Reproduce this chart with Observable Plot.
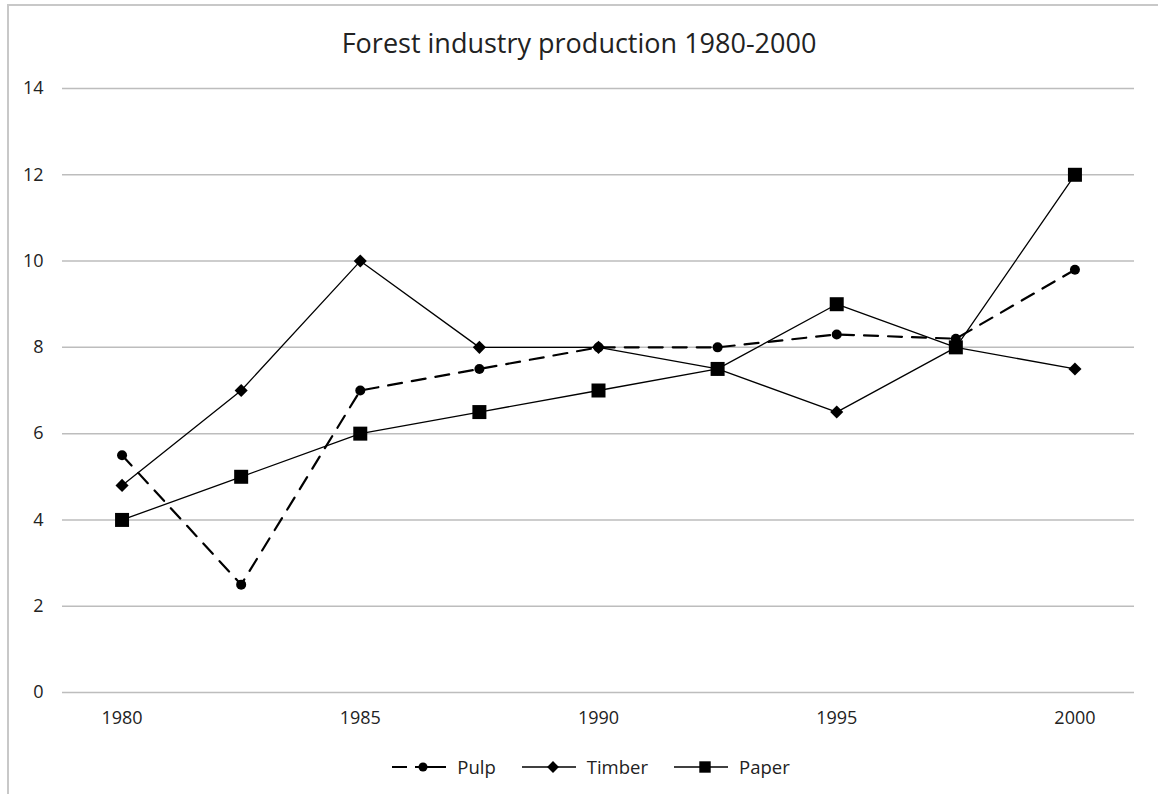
<!DOCTYPE html>
<html><head><meta charset="utf-8">
<script src="https://cdn.jsdelivr.net/npm/d3@7"></script>
<script src="https://cdn.jsdelivr.net/npm/@observablehq/plot@0.6"></script>
<style>
body{margin:0;background:#fff;font-family:"Open Sans",sans-serif;width:1158px;height:794px;overflow:hidden;position:relative;}
#frame{position:absolute;left:7px;top:4px;width:1170px;height:820px;border-left:2px solid #c8c8c8;border-top:2px solid #c8c8c8;}
#title{position:absolute;left:0;top:23px;width:1158px;text-align:center;font-size:27px;color:#222;line-height:40px;}
#chart{position:absolute;left:0;top:70px;}
#legend{position:absolute;top:754px;left:12px;width:1158px;display:flex;justify-content:center;align-items:center;font-size:18.5px;color:#222;}
.item{display:flex;align-items:center;margin:0 13px;}
.item svg{margin-right:11px;}
</style></head>
<body>
<div id="frame"></div>
<div id="title">Forest industry production 1980-2000</div>
<div id="chart"></div>
<div id="legend"></div>
<script>
const years = [1980, 1982.5, 1985, 1987.5, 1990, 1992.5, 1995, 1997.5, 2000];
const pulp = [5.5, 2.5, 7, 7.5, 8, 8, 8.3, 8.2, 9.8];
const timber = [4.8, 7, 10, 8, 8, 7.5, 6.5, 8, 7.5];
const paper = [4, 5, 6, 6.5, 7, 7.5, 9, 8, 12];
const xTicks = [1980, 1985, 1990, 1995, 2000];
const yTicks = [0, 2, 4, 6, 8, 10, 12, 14];
const seriesNames = ["Pulp", "Timber", "Paper"];

const seriesValues = {Pulp: pulp, Timber: timber, Paper: paper};
const seriesStyle = {
  Pulp: {symbol: "circle", r: 5, dash: "14,10", width: 2.2},
  Timber: {symbol: "diamond2", r: 5.9, dash: null, width: 1.3},
  Paper: {symbol: "square", r: 7.9, dash: null, width: 1.3}
};
const rows = seriesNames.map(s => years.map((y, i) => ({series: s, year: y, value: seriesValues[s][i]})));

const marks = [
  Plot.gridY(yTicks, {stroke: "#bdbdbd", strokeOpacity: 1, strokeWidth: 1.5}),
  Plot.axisY(yTicks, {tickSize: 0, tickPadding: 19, fontSize: 18, fill: "#222", label: null}),
  Plot.axisX(xTicks, {tickSize: 0, tickPadding: 19, fontSize: 18, fill: "#222", label: null, tickFormat: d => String(d)})
];
seriesNames.forEach((s, k) => {
  const st = seriesStyle[s];
  marks.push(Plot.line(rows[k], {x: "year", y: "value", stroke: "#000", strokeWidth: st.width, strokeDasharray: st.dash}));
});
seriesNames.forEach((s, k) => {
  const st = seriesStyle[s];
  marks.push(Plot.dot(rows[k], {x: "year", y: "value", symbol: () => st.symbol, r: st.r, fill: "#000", stroke: "none"}));
});

const chart = Plot.plot({
  width: 1158, height: 660,
  marginLeft: 62, marginRight: 24, marginTop: 18, marginBottom: 38,
  x: {domain: [1978.75, 2001.25], label: null},
  y: {domain: [0, 14], label: null},
  symbol: {type: "identity"},
  style: {fontFamily: "'Open Sans', sans-serif", background: "transparent", color: "#222", fontSize: "18px"},
  marks
});
document.getElementById("chart").appendChild(chart);

// legend
const legend = document.getElementById("legend");
seriesNames.forEach(s => {
  const st = seriesStyle[s];
  const item = document.createElement("div");
  item.className = "item";
  const svg = d3.create("svg").attr("width", 54).attr("height", 20);
  svg.append("line").attr("x1", 0).attr("x2", 54).attr("y1", 10).attr("y2", 10)
    .attr("stroke", "#000").attr("stroke-width", st.width)
    .attr("stroke-dasharray", st.dash ? "15,8,40" : null);
  const sym = {circle: d3.symbolCircle, diamond2: d3.symbolDiamond2, square: d3.symbolSquare}[st.symbol];
  const size = {circle: 64, diamond2: 90, square: 130}[st.symbol];
  svg.append("path").attr("transform", "translate(31,10)").attr("d", d3.symbol(sym, size)()).attr("fill", "#000");
  item.appendChild(svg.node());
  const t = document.createElement("span");
  t.textContent = s;
  item.appendChild(t);
  legend.appendChild(item);
});
</script>
</body></html>
